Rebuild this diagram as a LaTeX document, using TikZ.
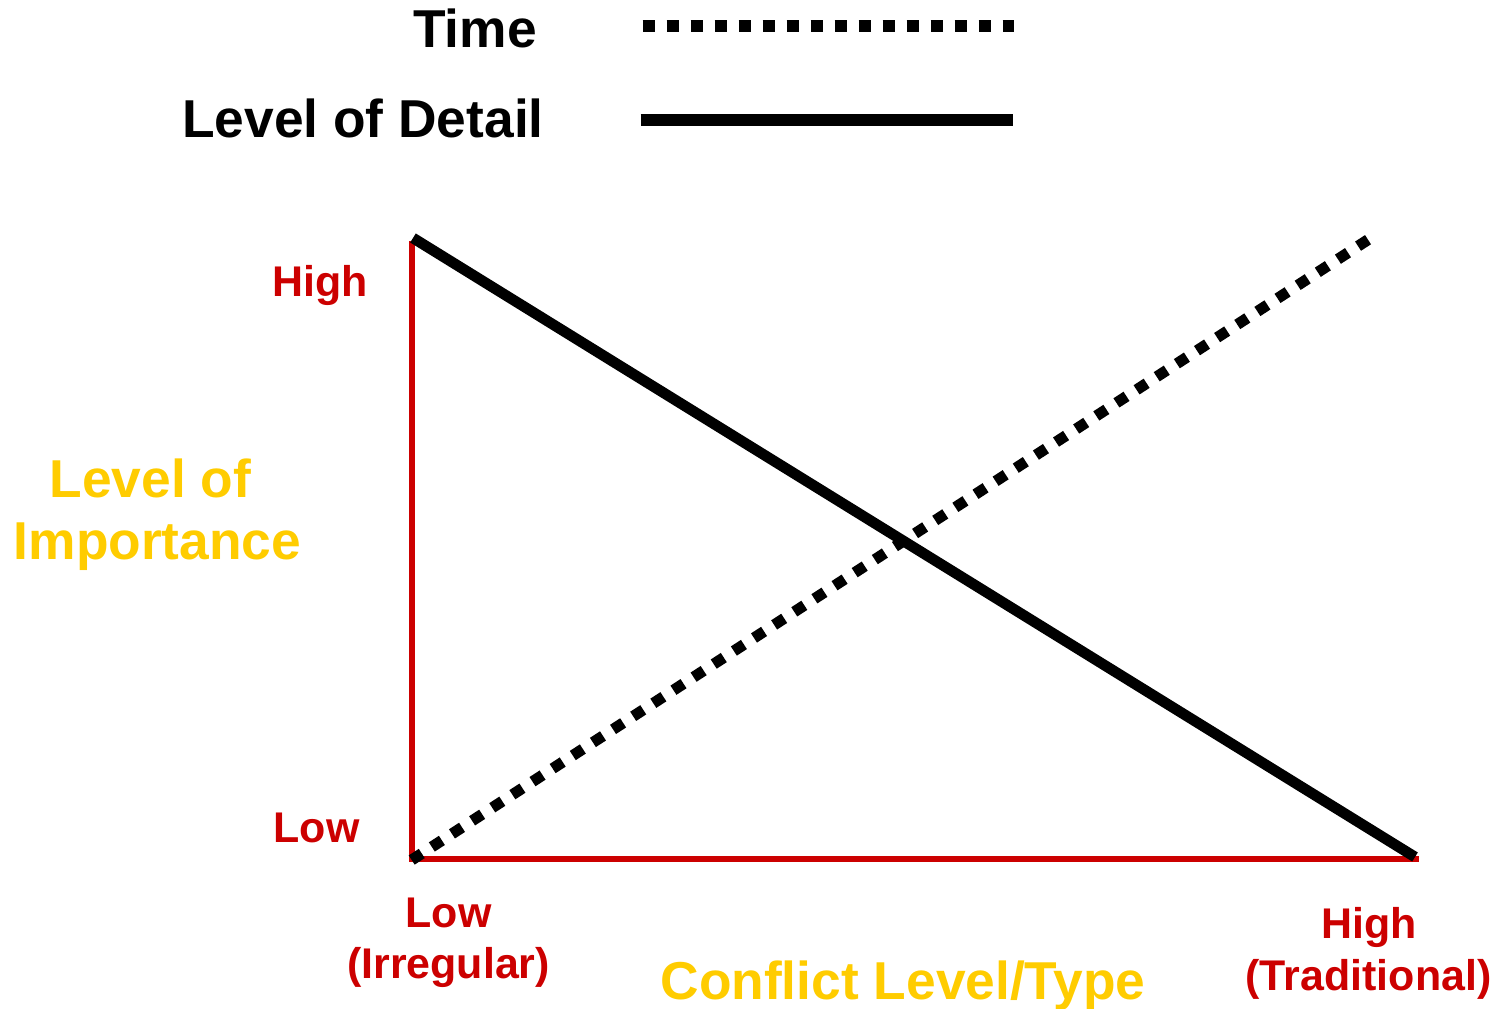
\documentclass[tikz,border=0pt]{standalone}
\usepackage{fontspec}
\setmainfont{Liberation Sans}
\definecolor{axred}{HTML}{CC0000}
\definecolor{axyel}{HTML}{FFCC00}
\tikzset{
  legendtxt/.style={inner sep=0pt, font=\fontsize{40}{48}\selectfont\bfseries, text=black},
  ticklbl/.style={inner sep=0pt, font=\fontsize{32.2}{38}\selectfont\bfseries, text=axred},
  axtitle/.style={inner sep=0pt, font=\fontsize{40}{48}\selectfont\bfseries, text=axyel},
  axisline/.style={draw=axred, line width=4.5pt},
  detailline/.style={draw=black, line width=8pt},
  timeline/.style={draw=black, line width=8.25pt, dash pattern=on 9pt off 9pt},
}
\begin{document}
\begin{tikzpicture}[x=0.75pt,y=-0.75pt]
\useasboundingbox (0,0) rectangle (1496,1009);
% legend
\node[legendtxt, anchor=base east] (legtime) at (537,48) {Time};
\node[legendtxt, anchor=base east] (legdetail) at (544,138) {Level of Detail};
\coordinate (lt1) at (642.7,26);
\coordinate (lt2) at (1014.3,26);
\coordinate (ld1) at (640.7,120);
\coordinate (ld2) at (1012.7,120);
\draw[timeline, line width=8.7pt] (lt1) -- (lt2);
\draw[detailline, line width=9.3pt] (ld1) -- (ld2);
% axes
\coordinate (ytop) at (411.5,241);
\coordinate (orig) at (411.5,859);
\coordinate (xend) at (1419,859);
\draw[axisline] (ytop) -- (orig) -- (xend);
% data lines
\coordinate (d1) at (413,238);
\coordinate (d2) at (1415,857);
\draw[detailline] (d1) -- (d2);
\coordinate (t1) at (411.7,860);
\coordinate (t2) at (1368,239.7);
\draw[timeline] (t1) -- (t2);
% tick labels
\node[ticklbl, anchor=base] (yhigh) at (320,297) {High};
\node[ticklbl, anchor=base] (ylow) at (316.5,842) {Low};
\node[ticklbl, anchor=base] (xlow) at (448.5,927.5) {Low};
\node[ticklbl, anchor=base] (xlowsub) at (448.5,978) {(Irregular)};
\node[ticklbl, anchor=base] (xhigh) at (1369.5,938.5) {High};
\node[ticklbl, anchor=base] (xhighsub) at (1368.5,990) {(Traditional)};
% axis titles
\node[axtitle, anchor=base] (ytitle1) at (150.5,497) {Level of};
\node[axtitle, anchor=base] (ytitle2) at (157.5,559.5) {Importance};
\node[axtitle, anchor=base] (xtitle) at (903,999) {Conflict Level/Type};
\end{tikzpicture}
\end{document}
